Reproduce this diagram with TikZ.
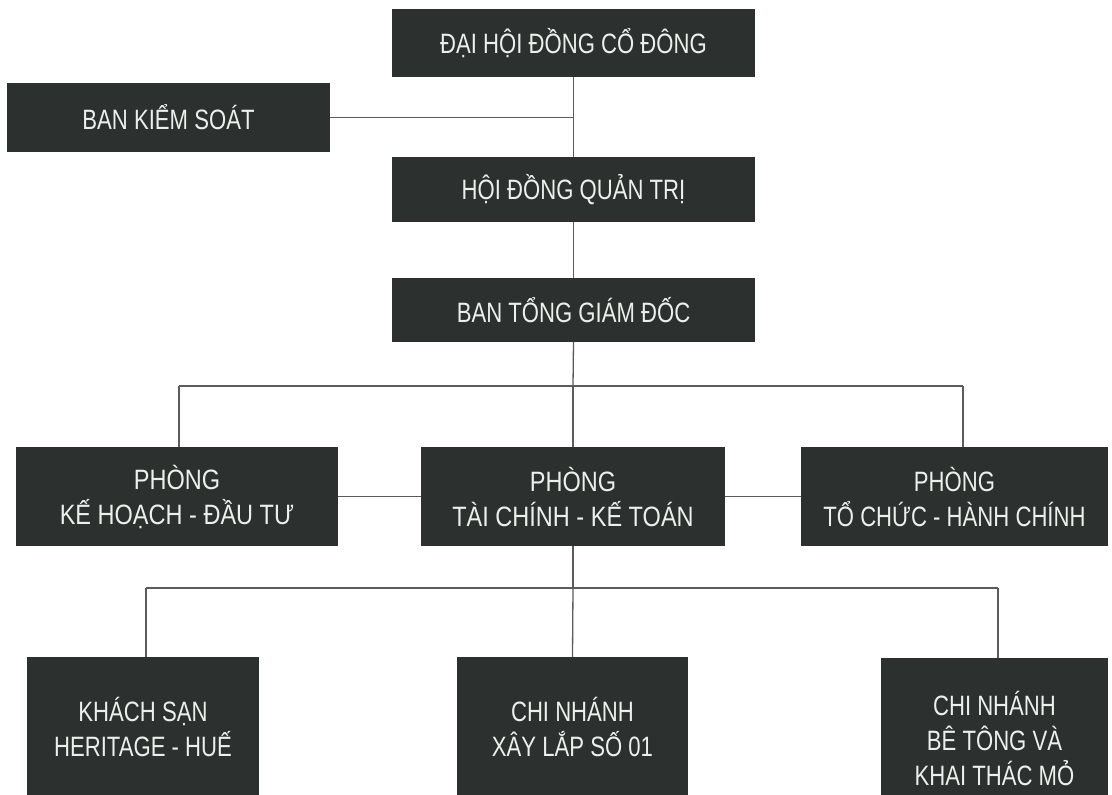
\documentclass[tikz,border=0pt]{standalone}
\usepackage{fontspec}
\setmainfont{Liberation Sans}[FakeStretch=0.79]
\newfontfamily\widerfont{Liberation Sans}[FakeStretch=0.84]
\definecolor{boxfill}{RGB}{44,48,47}
\definecolor{boxtext}{RGB}{236,240,236}
\definecolor{linecol}{RGB}{90,92,92}
\tikzset{
  orgbox/.style={rectangle, fill=boxfill, draw=none, text=boxtext, align=center,
    inner sep=0pt, font=\fontsize{28}{35}\selectfont},
  midbox/.style={orgbox, font=\widerfont\fontsize{28}{35}\selectfont},
  link/.style={draw=linecol, line width=1.3pt}
}
\begin{document}
\begin{tikzpicture}[x=1pt,y=-1pt]
\useasboundingbox (0,0) rectangle (1112,795);
\fill[white] (0,0) rectangle (1112,795);
\clip (0,0) rectangle (1112,795);
% top column
\node[orgbox, minimum width=363pt, minimum height=68pt] (dh) at (573.5,43) {ĐẠI HỘI ĐỒNG CỔ ĐÔNG};
\node[orgbox, minimum width=323pt, minimum height=69pt] (bks) at (168.5,117.5) {BAN KIỂM SOÁT};
\node[orgbox, minimum width=363pt, minimum height=65pt] (hd) at (573.5,189.5) {HỘI ĐỒNG QUẢN TRỊ};
\node[orgbox, minimum width=363pt, minimum height=64pt] (tg) at (573.5,310) {BAN TỔNG GIÁM ĐỐC};
% middle row
\node[midbox, minimum width=322pt, minimum height=99pt] (kh) at (177,496.5) {PHÒNG\\KẾ HOẠCH - ĐẦU TƯ};
\node[midbox, minimum width=304pt, minimum height=99pt] (tc) at (573,496.5) {PHÒNG\\TÀI CHÍNH - KẾ TOÁN};
\node[orgbox, minimum width=307pt, minimum height=99pt] (tchc) at (954.5,496.5) {PHÒNG\\TỔ CHỨC - HÀNH CHÍNH};
% bottom row
\node[orgbox, minimum width=232pt, minimum height=140pt] (ks) at (143,727) {KHÁCH SẠN\\HERITAGE - HUẾ};
\node[orgbox, minimum width=231pt, minimum height=140pt] (cnxl) at (572.5,727) {CHI NHÁNH\\XÂY LẮP SỐ 01};
\node[orgbox, minimum width=227pt, minimum height=160pt] (cnbt) at (994.5,738) {CHI NHÁNH\\BÊ TÔNG VÀ\\KHAI THÁC MỎ};
% bus coordinates
\coordinate (j1) at (573,117.5);
\coordinate (b1) at (573,386);
\coordinate (b1l) at (179,386);
\coordinate (b1r) at (963,386);
\coordinate (b2) at (573,588);
\coordinate (b2l) at (146,588);
\coordinate (b2r) at (998,588);
% connectors
\draw[link] (dh.south) -- (hd.north);
\draw[link] (bks.east) -- (j1);
\draw[link] (hd.south) -- (tg.north);
\draw[link] (tg.south) -- (b1);
\draw[link] (b1l) -- (b1r);
\draw[link] (b1l) -- (b1l |- kh.north);
\draw[link] (b1) -- (tc.north);
\draw[link] (b1r) -- (b1r |- tchc.north);
\draw[link] (kh.east) -- (tc.west);
\draw[link] (tc.east) -- (tchc.west);
\draw[link] (tc.south) -- (b2);
\draw[link] (b2l) -- (b2r);
\draw[link] (b2l) -- (b2l |- ks.north);
\draw[link] (b2) -- (cnxl.north);
\draw[link] (b2r) -- (b2r |- cnbt.north);
\end{tikzpicture}
\end{document}
